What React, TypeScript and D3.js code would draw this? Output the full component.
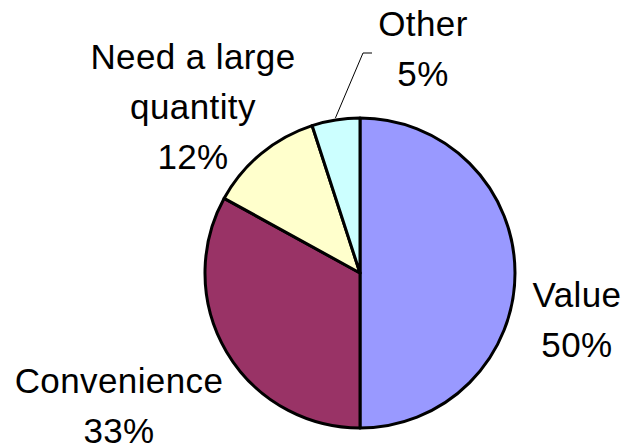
import React, { useEffect, useRef } from 'react';
import * as d3 from 'd3';

const categories = ['Value', 'Convenience', 'Need a large quantity', 'Other'];
const shares = [50, 33, 12, 5];
const sliceColors = ['#9999ff', '#993366', '#ffffcc', '#ccffff'];

// label text lines, as shown next to each slice
const labelLines = [
  ['Value', '50%'],
  ['Convenience', '33%'],
  ['Need a large', 'quantity', '12%'],
  ['Other', '5%'],
];

// label centre offsets from the pie centre (first baseline)
const labelOffsets: [number, number][] = [
  [217, 34],
  [-241, 120],
  [-167, -204],
  [63, -237],
];

const App: React.FC = () => {
  const svgRef = useRef<SVGSVGElement | null>(null);

  useEffect(() => {
    if (!svgRef.current) return;
    const width = 630;
    const height = 444;
    const cx = 360;
    const cy = 273;
    const radius = 155;
    const lineHeight = 50;

    const svg = d3.select(svgRef.current);
    svg.selectAll('*').remove();
    svg.attr('width', width).attr('height', height).attr('viewBox', `0 0 ${width} ${height}`);

    svg.append('rect').attr('width', width).attr('height', height).attr('fill', '#fff');

    const data = categories.map((c, i) => ({ label: c, value: shares[i] }));
    const pie = d3.pie<{ label: string; value: number }>().sort(null).value((d) => d.value);
    const arc = d3
      .arc<d3.PieArcDatum<{ label: string; value: number }>>()
      .innerRadius(0)
      .outerRadius(radius);

    const chart = svg.append('g').attr('transform', `translate(${cx}, ${cy})`);
    const arcs = pie(data);

    chart
      .selectAll('path')
      .data(arcs)
      .enter()
      .append('path')
      .attr('d', arc)
      .attr('fill', (_, i) => sliceColors[i])
      .attr('stroke', '#000')
      .attr('stroke-width', 3)
      .attr('stroke-linejoin', 'round');

    // leader line for the small "Other" slice
    const other = arcs[3];
    const mid = (other.startAngle + other.endAngle) / 2;
    const edge: [number, number] = [Math.sin(mid) * (radius + 2), -Math.cos(mid) * (radius + 2)];
    const [ox, oy] = labelOffsets[3];
    const leader: [number, number][] = [edge, [ox - 60, oy + 17], [ox - 51, oy + 17]];
    chart
      .append('polyline')
      .attr('points', leader.map((p) => p.join(',')).join(' '))
      .attr('fill', 'none')
      .attr('stroke', '#000')
      .attr('stroke-width', 1);

    const labels = chart
      .selectAll('text.label')
      .data(labelLines)
      .enter()
      .append('text')
      .attr('class', 'label')
      .attr('text-anchor', 'middle')
      .style('font-family', '"Liberation Sans", Arial, sans-serif')
      .style('font-size', '35px')
      .style('letter-spacing', '0.4px')
      .attr('fill', '#000');

    labels.each(function (lines, i) {
      const [dx, dy] = labelOffsets[i];
      d3.select(this)
        .selectAll('tspan')
        .data(lines)
        .enter()
        .append('tspan')
        .attr('x', dx)
        .attr('y', (_, j) => dy + j * lineHeight)
        .text((d) => d);
    });
  }, []);

  return <svg ref={svgRef} style={{ position: 'absolute', left: 0, top: 0, display: 'block' }}></svg>;
};

export default App;
